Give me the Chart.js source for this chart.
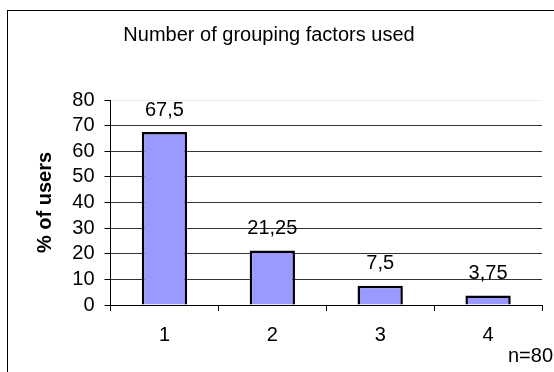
<!DOCTYPE html>
<html>
<head>
<meta charset="utf-8">
<script src="https://cdn.jsdelivr.net/npm/chart.js@4/dist/chart.umd.min.js"></script>
<style>
  html, body { margin: 0; padding: 0; background: #fff; }
  #wrap { position: relative; width: 554px; height: 372px; }
</style>
</head>
<body>
<div id="wrap"><canvas id="c" width="554" height="372"></canvas></div>
<script>
// Share of users by number of grouping factors used (n=80)
const categories = ['1', '2', '3', '4'];
const percentUsers = [67.5, 21.25, 7.5, 3.75];
const valueLabels = ['67,5', '21,25', '7,5', '3,75'];
const yTicks = [0, 10, 20, 30, 40, 50, 60, 70, 80];
const chartTitle = 'Number of grouping factors used';
const yTitle = '% of users';
const sampleNote = 'n=80';

const FONT = '"Liberation Sans", Arial, sans-serif';

// Frame, heading, value labels and sample size note
const decorations = {
  id: 'decorations',
  beforeDraw(chart) {
    const ctx = chart.ctx;
    ctx.save();
    ctx.strokeStyle = '#000';
    ctx.lineWidth = 1;
    ctx.strokeRect(7.5, 10.5, 600, 400);
    ctx.restore();
  },
  afterDraw(chart) {
    const ctx = chart.ctx;
    ctx.save();
    ctx.fillStyle = '#000';
    ctx.font = '20px ' + FONT;
    ctx.textAlign = 'center';
    ctx.textBaseline = 'middle';
    ctx.fillText(chartTitle, 269, 35);

    const meta = chart.getDatasetMeta(0);
    meta.data.forEach((bar, i) => {
      ctx.fillText(valueLabels[i], bar.x, bar.y - 22);
    });

    ctx.textAlign = 'right';
    ctx.fillText(sampleNote, 553, 356);
    ctx.restore();
  }
};

new Chart(document.getElementById('c'), {
  type: 'bar',
  data: {
    labels: categories,
    datasets: [{
      data: percentUsers,
      backgroundColor: '#9999FF',
      borderColor: '#000',
      borderWidth: 2.5,
      barPercentage: 0.42,
      categoryPercentage: 1.0
    }]
  },
  options: {
    responsive: false,
    animation: false,
    layout: { padding: { left: 0, right: 12, top: 100, bottom: 0 } },
    plugins: {
      legend: { display: false },
      tooltip: { enabled: false },
      title: { display: false }
    },
    scales: {
      x: {
        offset: true,
        grid: {
          offset: true,
          drawOnChartArea: false,
          drawTicks: true,
          tickLength: 6,
          color: '#000'
        },
        border: { display: true, color: '#000', width: 1 },
        ticks: {
          color: '#000',
          font: { family: FONT, size: 20 },
          padding: 12
        },
        afterFit(scale) { scale.height = 67; }
      },
      y: {
        min: 0,
        max: 80,
        afterBuildTicks(scale) {
          scale.ticks = yTicks.map(v => ({ value: v }));
        },
        grid: {
          color(ctx) {
            if (ctx.tick && ctx.tick.value === 80) return '#eeeeee';
            return '#333';
          },
          tickColor: '#000',
          tickLength: 6,
          drawTicks: true
        },
        border: { display: true, color: '#000', width: 1 },
        ticks: {
          color: '#000',
          font: { family: FONT, size: 20 },
          padding: 10,
          autoSkip: false
        },
        title: {
          display: true,
          text: yTitle,
          color: '#000',
          font: { family: FONT, size: 20, weight: 'bold' },
          padding: { top: 33, bottom: 0 }
        },
        afterFit(scale) { scale.width = 110.5; }
      }
    }
  },
  plugins: [decorations]
});
</script>
</body>
</html>
